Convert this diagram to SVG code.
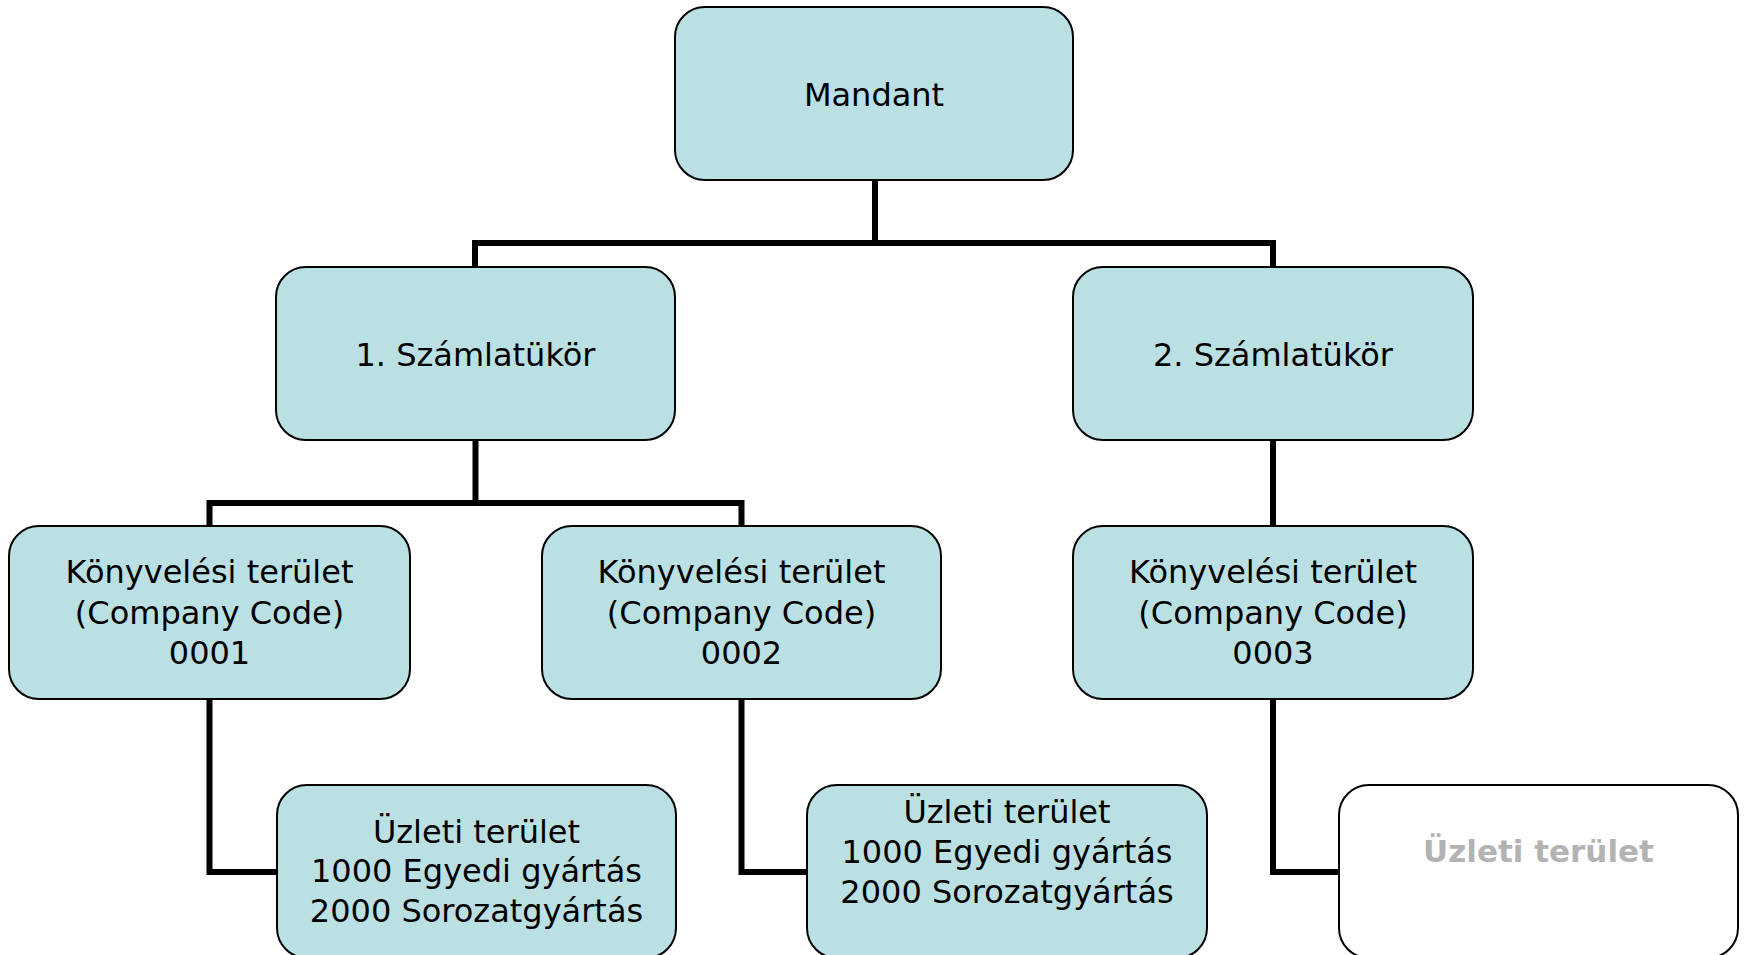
<svg xmlns="http://www.w3.org/2000/svg" width="1744" height="955" viewBox="0 0 1744 955">
<style>
.box{fill:#bae0e4;stroke:#000;stroke-width:2;}
.ghost{fill:#fff;stroke:#000;stroke-width:2;}
.t{font-family:"DejaVu Sans","Liberation Sans",sans-serif;font-size:32px;fill:#000;text-anchor:middle;}
.g{font-family:"DejaVu Sans","Liberation Sans",sans-serif;font-size:31px;font-weight:bold;fill:#b3b3b3;text-anchor:middle;}
.c{fill:none;stroke:#000;stroke-width:6;stroke-linejoin:miter;}
</style>
<rect width="1744" height="955" fill="#fff"/>
<g id="connectors">
<path class="c" d="M875,180 V243 M475,267 V243 H1273 V267"/>
<path class="c" d="M475.5,440 V503 M209.5,526 V503 H741.5 V526"/>
<path class="c" d="M1273,440 V526"/>
<path class="c" d="M209.5,699 V872 H277"/>
<path class="c" d="M741.5,699 V872 H807"/>
<path class="c" d="M1273,699 V872 H1339"/>
</g>
<g id="mandant">
<rect class="box" x="675" y="7" width="398" height="173" rx="30"/>
<text class="t" x="874" y="106">Mandant</text>
</g>
<g id="szamlatukor1">
<rect class="box" x="276" y="267" width="399" height="173" rx="30"/>
<text class="t" x="475.5" y="366">1. Számlatükör</text>
</g>
<g id="szamlatukor2">
<rect class="box" x="1073" y="267" width="400" height="173" rx="30"/>
<text class="t" x="1273" y="366">2. Számlatükör</text>
</g>
<g id="cc0001">
<rect class="box" x="9" y="526" width="401" height="173" rx="30"/>
<text class="t" x="209.5" y="583">Könyvelési terület</text>
<text class="t" x="209.5" y="624">(Company Code)</text>
<text class="t" x="209.5" y="664">0001</text>
</g>
<g id="cc0002">
<rect class="box" x="542" y="526" width="399" height="173" rx="30"/>
<text class="t" x="741.5" y="583">Könyvelési terület</text>
<text class="t" x="741.5" y="624">(Company Code)</text>
<text class="t" x="741.5" y="664">0002</text>
</g>
<g id="cc0003">
<rect class="box" x="1073" y="526" width="400" height="173" rx="30"/>
<text class="t" x="1273" y="583">Könyvelési terület</text>
<text class="t" x="1273" y="624">(Company Code)</text>
<text class="t" x="1273" y="664">0003</text>
</g>
<g id="uzleti1">
<rect class="box" x="277" y="785" width="399" height="173" rx="30"/>
<text class="t" x="476.5" y="843">Üzleti terület</text>
<text class="t" x="476.5" y="882">1000 Egyedi gyártás</text>
<text class="t" x="476.5" y="922">2000 Sorozatgyártás</text>
</g>
<g id="uzleti2">
<rect class="box" x="807" y="785" width="400" height="173" rx="30"/>
<text class="t" x="1007" y="823">Üzleti terület</text>
<text class="t" x="1007" y="863">1000 Egyedi gyártás</text>
<text class="t" x="1007" y="903">2000 Sorozatgyártás</text>
</g>
<g id="uzleti3">
<rect class="ghost" x="1339" y="785" width="399" height="173" rx="30"/>
<text class="g" x="1538.5" y="862">Üzleti terület</text>
</g>
</svg>
